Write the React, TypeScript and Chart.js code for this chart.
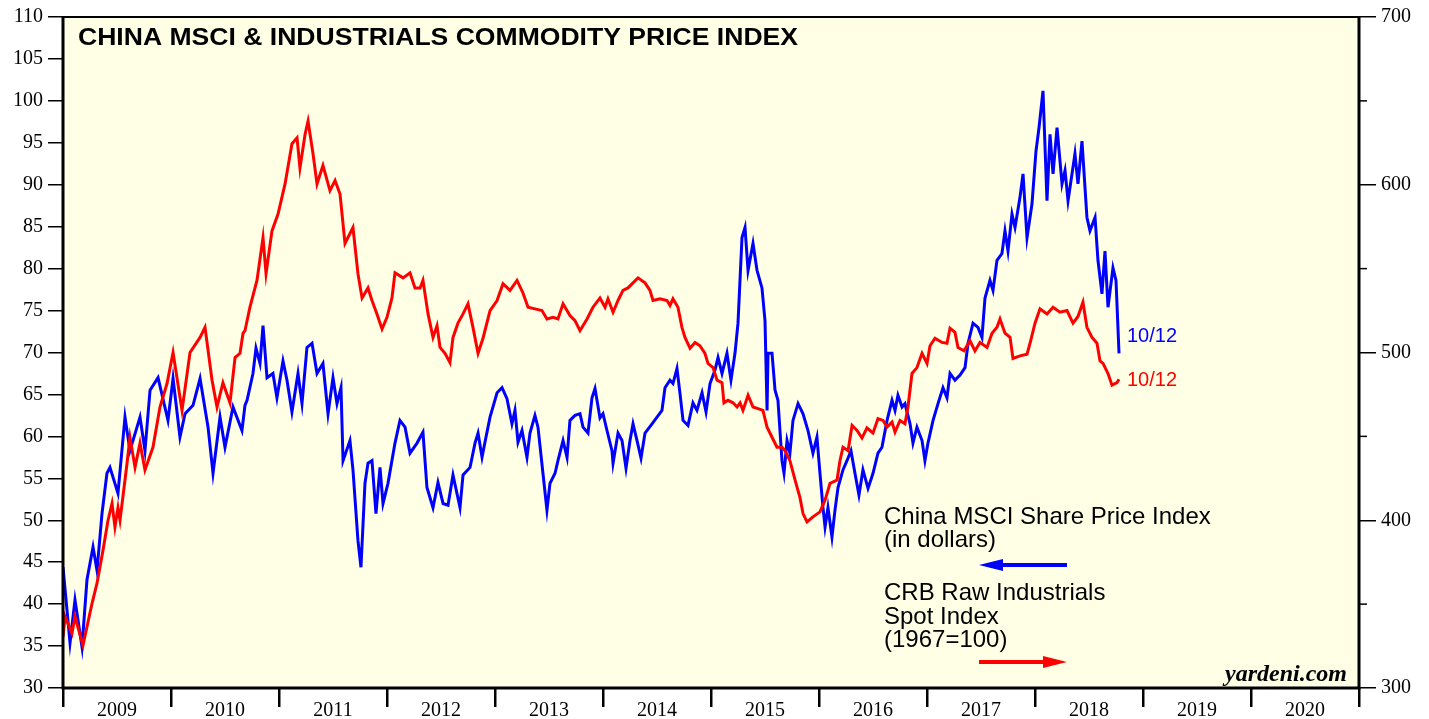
import React, { useEffect, useRef } from "react";
import { Chart, registerables } from "chart.js";

Chart.register(...registerables);

// China MSCI Share Price Index (in dollars) — left axis
const blueDates = [
  2009.000, 2009.065, 2009.111, 2009.176, 2009.222, 2009.278, 2009.315, 2009.361, 2009.407, 2009.435,
  2009.509, 2009.574, 2009.620, 2009.713, 2009.759, 2009.806, 2009.880, 2009.972, 2010.019, 2010.083,
  2010.130, 2010.204, 2010.269, 2010.343, 2010.389, 2010.454, 2010.500, 2010.574, 2010.657, 2010.685,
  2010.704, 2010.759, 2010.787, 2010.824, 2010.852, 2010.889, 2010.944, 2010.981, 2011.037, 2011.074,
  2011.120, 2011.176, 2011.213, 2011.259, 2011.306, 2011.352, 2011.407, 2011.454, 2011.500, 2011.537,
  2011.574, 2011.593, 2011.657, 2011.685, 2011.731, 2011.759, 2011.796, 2011.824, 2011.861, 2011.898,
  2011.935, 2011.963, 2012.009, 2012.074, 2012.120, 2012.167, 2012.213, 2012.278, 2012.333, 2012.370,
  2012.426, 2012.472, 2012.519, 2012.565, 2012.611, 2012.676, 2012.704, 2012.769, 2012.815, 2012.843,
  2012.880, 2012.907, 2012.954, 2013.019, 2013.065, 2013.111, 2013.157, 2013.185, 2013.213, 2013.250,
  2013.296, 2013.324, 2013.370, 2013.398, 2013.444, 2013.481, 2013.509, 2013.556, 2013.583, 2013.630,
  2013.667, 2013.694, 2013.741, 2013.787, 2013.815, 2013.861, 2013.898, 2013.926, 2013.972, 2014.000,
  2014.037, 2014.083, 2014.093, 2014.139, 2014.176, 2014.213, 2014.250, 2014.278, 2014.315, 2014.352,
  2014.389, 2014.454, 2014.500, 2014.546, 2014.574, 2014.620, 2014.648, 2014.685, 2014.713, 2014.741,
  2014.787, 2014.833, 2014.870, 2014.917, 2014.954, 2014.991, 2015.037, 2015.065, 2015.102, 2015.148,
  2015.185, 2015.222, 2015.250, 2015.287, 2015.315, 2015.343, 2015.389, 2015.426, 2015.472, 2015.500,
  2015.519, 2015.528, 2015.565, 2015.593, 2015.620, 2015.657, 2015.676, 2015.704, 2015.731, 2015.759,
  2015.806, 2015.852, 2015.898, 2015.944, 2015.981, 2016.009, 2016.037, 2016.056, 2016.083, 2016.120,
  2016.148, 2016.176, 2016.222, 2016.259, 2016.296, 2016.333, 2016.370, 2016.407, 2016.454, 2016.500,
  2016.546, 2016.583, 2016.630, 2016.676, 2016.704, 2016.731, 2016.769, 2016.796, 2016.843, 2016.870,
  2016.907, 2016.954, 2016.981, 2017.009, 2017.056, 2017.102, 2017.148, 2017.185, 2017.213, 2017.259,
  2017.306, 2017.352, 2017.380, 2017.426, 2017.472, 2017.509, 2017.537, 2017.583, 2017.611, 2017.648,
  2017.694, 2017.722, 2017.750, 2017.787, 2017.815, 2017.861, 2017.889, 2017.926, 2017.972, 2018.009,
  2018.037, 2018.074, 2018.111, 2018.139, 2018.167, 2018.204, 2018.250, 2018.278, 2018.306, 2018.370,
  2018.398, 2018.435, 2018.481, 2018.509, 2018.556, 2018.583, 2018.620, 2018.648, 2018.676, 2018.722,
  2018.750, 2018.778,
];
const blueValues = [
  44.4, 35.4, 40.5, 34.9, 42.9, 46.8, 44.0, 50.8, 55.6, 56.3,
  53.2, 62.3, 58.3, 62.3, 58.3, 65.5, 67.0, 61.9, 66.9, 59.9,
  62.7, 63.7, 66.9, 61.1, 55.6, 62.3, 58.7, 63.5, 60.7, 63.7,
  64.3, 67.5, 70.5, 68.7, 73.2, 67.0, 67.5, 64.6, 69.0, 66.7,
  62.9, 67.5, 63.9, 70.6, 71.1, 67.5, 68.7, 62.7, 67.0, 63.9,
  65.8, 57.1, 59.5, 56.0, 47.6, 44.4, 54.4, 56.8, 57.1, 50.8,
  56.3, 52.0, 54.4, 59.2, 61.9, 61.1, 58.0, 59.2, 60.5, 53.9,
  51.5, 54.5, 52.0, 51.8, 55.4, 51.5, 55.4, 56.3, 59.2, 60.4,
  57.5, 59.3, 62.3, 65.2, 65.8, 64.5, 61.5, 63.1, 59.3, 60.7,
  57.5, 60.4, 62.5, 61.1, 55.6, 51.2, 54.4, 55.6, 57.1, 59.5,
  57.5, 61.9, 62.5, 62.7, 61.1, 60.4, 64.6, 65.7, 62.2, 62.7,
  60.7, 58.3, 56.8, 60.4, 59.5, 56.2, 59.5, 61.5, 59.5, 57.4,
  60.4, 61.5, 62.3, 63.1, 65.8, 66.7, 66.3, 68.1, 65.1, 61.9,
  61.3, 64.0, 63.1, 65.2, 62.9, 66.3, 67.9, 69.4, 67.5, 69.9,
  66.7, 69.9, 73.5, 83.7, 84.9, 79.8, 83.0, 79.8, 77.7, 73.8,
  63.1, 69.9, 69.9, 65.5, 64.3, 57.1, 55.6, 59.5, 58.0, 61.9,
  63.9, 62.7, 60.7, 58.0, 59.9, 55.6, 51.5, 49.2, 51.5, 48.0,
  51.2, 53.9, 56.0, 57.1, 58.3, 55.6, 53.0, 56.0, 53.8, 55.6,
  58.0, 58.7, 61.9, 64.3, 63.1, 64.9, 63.5, 63.9, 61.5, 59.2,
  61.1, 59.5, 57.1, 59.2, 61.9, 63.9, 65.8, 64.6, 67.5, 66.7,
  67.3, 68.2, 71.1, 73.5, 73.0, 71.8, 76.5, 78.6, 77.4, 81.0,
  81.8, 84.5, 82.1, 86.5, 84.9, 88.5, 91.3, 83.7, 87.7, 94.0,
  96.8, 101.2, 88.1, 96.0, 91.3, 96.8, 90.1, 91.7, 88.1, 93.7,
  90.1, 95.2, 86.1, 84.5, 86.1, 81.0, 77.0, 82.1, 75.4, 80.1,
  78.6, 69.9,
];

// CRB Raw Industrials Spot Index (1967=100) — right axis
const redDates = [
  2009.000, 2009.019, 2009.083, 2009.111, 2009.185, 2009.269, 2009.315, 2009.370, 2009.417, 2009.454,
  2009.481, 2009.509, 2009.528, 2009.593, 2009.620, 2009.667, 2009.713, 2009.759, 2009.833, 2009.898,
  2009.963, 2010.019, 2010.102, 2010.176, 2010.269, 2010.315, 2010.380, 2010.426, 2010.481, 2010.546,
  2010.593, 2010.639, 2010.667, 2010.685, 2010.731, 2010.796, 2010.852, 2010.880, 2010.935, 2010.991,
  2011.056, 2011.120, 2011.167, 2011.194, 2011.241, 2011.269, 2011.315, 2011.352, 2011.407, 2011.472,
  2011.519, 2011.565, 2011.611, 2011.685, 2011.731, 2011.769, 2011.824, 2011.861, 2011.907, 2011.954,
  2012.000, 2012.046, 2012.074, 2012.148, 2012.213, 2012.259, 2012.306, 2012.333, 2012.380, 2012.426,
  2012.463, 2012.491, 2012.537, 2012.583, 2012.611, 2012.657, 2012.704, 2012.750, 2012.796, 2012.843,
  2012.889, 2012.954, 2013.019, 2013.074, 2013.139, 2013.204, 2013.259, 2013.306, 2013.370, 2013.435,
  2013.481, 2013.537, 2013.583, 2013.630, 2013.694, 2013.741, 2013.787, 2013.852, 2013.907, 2013.972,
  2014.019, 2014.046, 2014.093, 2014.139, 2014.185, 2014.231, 2014.278, 2014.324, 2014.389, 2014.435,
  2014.463, 2014.528, 2014.593, 2014.620, 2014.648, 2014.694, 2014.731, 2014.759, 2014.806, 2014.852,
  2014.898, 2014.944, 2014.972, 2015.019, 2015.056, 2015.102, 2015.120, 2015.157, 2015.204, 2015.241,
  2015.269, 2015.296, 2015.343, 2015.389, 2015.435, 2015.481, 2015.519, 2015.565, 2015.611, 2015.657,
  2015.685, 2015.731, 2015.778, 2015.824, 2015.852, 2015.889, 2015.944, 2016.009, 2016.056, 2016.102,
  2016.167, 2016.194, 2016.222, 2016.269, 2016.306, 2016.352, 2016.398, 2016.444, 2016.500, 2016.546,
  2016.593, 2016.630, 2016.676, 2016.704, 2016.750, 2016.796, 2016.824, 2016.861, 2016.907, 2016.954,
  2017.000, 2017.028, 2017.074, 2017.139, 2017.185, 2017.213, 2017.259, 2017.287, 2017.343, 2017.398,
  2017.444, 2017.491, 2017.556, 2017.602, 2017.648, 2017.676, 2017.722, 2017.769, 2017.796, 2017.861,
  2017.926, 2017.954, 2018.000, 2018.046, 2018.111, 2018.167, 2018.231, 2018.296, 2018.352, 2018.398,
  2018.444, 2018.481, 2018.528, 2018.574, 2018.602, 2018.630, 2018.676, 2018.713, 2018.759, 2018.778,
];
const redValues = [
  330.5, 342.5, 332.5, 342.5, 325.5, 350.5, 362.5, 382.0, 400.0, 410.0,
  396.0, 407.5, 400.0, 434.0, 449.5, 431.5, 446.0, 430.0, 443.5, 467.5,
  481.5, 500.0, 465.5, 500.0, 509.0, 515.0, 483.5, 467.5, 482.0, 470.0,
  497.0, 499.5, 511.5, 513.0, 527.0, 543.0, 568.5, 547.0, 572.5, 582.5,
  600.5, 624.5, 628.0, 610.0, 630.0, 638.0, 618.5, 600.5, 611.5, 596.5,
  602.5, 594.5, 565.0, 574.5, 547.0, 532.5, 538.5, 531.0, 523.0, 514.0,
  521.0, 532.5, 547.5, 544.5, 547.5, 538.5, 538.5, 543.0, 523.0, 509.0,
  516.0, 503.0, 499.5, 494.0, 509.0, 517.5, 523.0, 529.0, 515.0, 499.5,
  508.5, 525.0, 531.0, 541.0, 537.0, 543.0, 535.5, 527.0, 526.0, 525.0,
  520.0, 521.0, 520.0, 529.0, 522.0, 519.0, 513.0, 520.0, 527.0, 532.5,
  527.0, 532.0, 524.0, 531.0, 537.0, 538.5, 541.5, 544.5, 541.5, 537.0,
  531.0, 532.0, 531.0, 528.0, 532.0, 527.0, 515.0, 509.0, 502.5, 506.0,
  504.0, 499.5, 493.5, 491.0, 483.5, 482.0, 470.0, 471.5, 470.0, 467.5,
  470.0, 465.5, 474.5, 467.5, 466.5, 465.5, 455.5, 449.5, 443.5, 443.5,
  441.5, 435.5, 424.0, 413.5, 404.0, 399.0, 402.0, 405.0, 412.0, 422.0,
  424.0, 435.5, 443.5, 441.5, 456.5, 453.5, 449.0, 455.0, 452.0, 460.5,
  459.5, 455.5, 458.5, 452.5, 459.5, 457.5, 467.5, 487.5, 491.0, 499.5,
  493.5, 504.0, 508.5, 506.0, 505.5, 514.5, 512.0, 503.0, 501.0, 507.0,
  501.0, 506.0, 503.0, 511.5, 515.0, 520.0, 511.5, 509.0, 496.5, 498.0,
  499.0, 505.5, 517.5, 526.0, 523.0, 527.0, 524.0, 525.0, 517.5, 521.5,
  530.0, 515.0, 509.0, 505.5, 495.0, 493.5, 487.5, 480.5, 482.0, 484.0,
];

const leftTicks = [30, 35, 40, 45, 50, 55, 60, 65, 70, 75, 80, 85, 90, 95, 100, 105, 110];
const rightTicks = [300, 400, 500, 600, 700];
const rightMinorTicks = [350, 450, 550, 650];
const yearTicks = [2009, 2010, 2011, 2012, 2013, 2014, 2015, 2016, 2017, 2018, 2019, 2020, 2021];
const yearLabels = ["2009", "2010", "2011", "2012", "2013", "2014", "2015", "2016", "2017", "2018", "2019", "2020"];

const titleText = "CHINA MSCI & INDUSTRIALS COMMODITY PRICE INDEX";
const blueLegend = ["China MSCI Share Price Index", "(in dollars)"];
const redLegend = ["CRB Raw Industrials", "Spot Index", "(1967=100)"];
const lastDateLabel = "10/12";
const sourceText = "yardeni.com";

const BLUE = "#0000ff";
const RED = "#ff0000";
const SANS = '"Liberation Sans", Arial, Helvetica, sans-serif';
const SERIF = '"Liberation Serif", "Times New Roman", serif';

function drawArrow(ctx: CanvasRenderingContext2D, x1: number, x2: number, y: number, color: string) {
  const dir = x2 > x1 ? 1 : -1;
  const headLen = 24;
  const headHalf = 6;
  ctx.save();
  ctx.strokeStyle = color;
  ctx.fillStyle = color;
  ctx.lineWidth = 4;
  ctx.beginPath();
  ctx.moveTo(x1, y);
  ctx.lineTo(x2 - dir * headLen, y);
  ctx.stroke();
  ctx.beginPath();
  ctx.moveTo(x2, y);
  ctx.lineTo(x2 - dir * headLen, y - headHalf);
  ctx.lineTo(x2 - dir * headLen, y + headHalf);
  ctx.closePath();
  ctx.fill();
  ctx.restore();
}

const backgroundPlugin = {
  id: "plotBackground",
  beforeDatasetsDraw(chart: any) {
    const { ctx, chartArea } = chart;
    ctx.save();
    ctx.fillStyle = "#ffffe6";
    ctx.fillRect(chartArea.left, chartArea.top, chartArea.right - chartArea.left, chartArea.bottom - chartArea.top);
    ctx.restore();
  },
};

const overlayPlugin = {
  id: "overlay",
  afterDraw(chart: any) {
    const { ctx, chartArea, scales } = chart;
    const { left, right, top, bottom } = chartArea;
    ctx.save();

    // frame
    ctx.strokeStyle = "#000";
    ctx.lineWidth = 2;
    ctx.beginPath();
    ctx.moveTo(left, top);
    ctx.lineTo(right, top);
    ctx.stroke();
    ctx.lineWidth = 3;
    ctx.beginPath();
    ctx.moveTo(left, top - 1);
    ctx.lineTo(left, bottom);
    ctx.lineTo(right, bottom);
    ctx.lineTo(right, top - 1);
    ctx.stroke();

    // right minor ticks
    ctx.lineWidth = 1.5;
    const yR = scales.yRight;
    rightMinorTicks.forEach((v) => {
      const py = yR.getPixelForValue(v);
      ctx.beginPath();
      ctx.moveTo(right, py);
      ctx.lineTo(right + 8, py);
      ctx.stroke();
    });

    // year labels centred between year ticks
    const xs = scales.x;
    ctx.fillStyle = "#000";
    ctx.font = `20px ${SERIF}`;
    ctx.textAlign = "center";
    ctx.textBaseline = "alphabetic";
    yearLabels.forEach((lab, i) => {
      const px = (xs.getPixelForValue(yearTicks[i]) + xs.getPixelForValue(yearTicks[i + 1])) / 2;
      ctx.fillText(lab, px, bottom + 28);
    });

    // title (stretched to the reference width)
    ctx.textAlign = "left";
    ctx.font = `bold 24px ${SANS}`;
    const tw = ctx.measureText(titleText).width;
    const targetW = 720;
    ctx.save();
    ctx.translate(left + 15, top + 28);
    ctx.scale(targetW / tw, 1);
    ctx.fillText(titleText, 0, 0);
    ctx.restore();

    // legend texts
    ctx.font = `24px ${SANS}`;
    const lx = left + 821;
    blueLegend.forEach((t, i) => ctx.fillText(t, lx, 524 + i * 23));
    drawArrow(ctx, lx + 183, lx + 95, 565, BLUE);
    ctx.fillStyle = "#000";
    ctx.font = `24px ${SANS}`;
    redLegend.forEach((t, i) => ctx.fillText(t, lx, 600 + i * 23.5));
    drawArrow(ctx, lx + 95, lx + 183, 662, RED);

    // end labels
    ctx.font = `20px ${SANS}`;
    ctx.textBaseline = "middle";
    ctx.fillStyle = BLUE;
    ctx.fillText(lastDateLabel, 1127, 336);
    ctx.fillStyle = RED;
    ctx.fillText(lastDateLabel, 1127, 380);

    // source
    ctx.fillStyle = "#000";
    ctx.textBaseline = "alphabetic";
    ctx.textAlign = "right";
    ctx.font = `italic bold 24px ${SERIF}`;
    ctx.fillText(sourceText, right - 12, bottom - 7);

    ctx.restore();
  },
};

export default function App() {
  const canvasRef = useRef<HTMLCanvasElement | null>(null);

  useEffect(() => {
    const canvas = canvasRef.current;
    if (!canvas) return;
    const chart = new Chart(canvas, {
      type: "line",
      data: {
        datasets: [
          {
            label: "CRB Raw Industrials Spot Index (1967=100)",
            data: redDates.map((d, i) => ({ x: d, y: redValues[i] })),
            yAxisID: "yRight",
            borderColor: RED,
            borderWidth: 3,
            pointRadius: 0,
            tension: 0,
            fill: false,
          },
          {
            label: "China MSCI Share Price Index (in dollars)",
            data: blueDates.map((d, i) => ({ x: d, y: blueValues[i] })),
            yAxisID: "y",
            borderColor: BLUE,
            borderWidth: 3,
            pointRadius: 0,
            tension: 0,
            fill: false,
          },
        ],
      },
      options: {
        responsive: false,
        animation: false,
        layout: { padding: { top: 16, left: 0, right: 0, bottom: 0 } },
        plugins: {
          legend: { display: false },
          title: { display: false },
          tooltip: { enabled: false },
        },
        scales: {
          x: {
            type: "linear",
            min: 2009,
            max: 2021,
            afterBuildTicks: (scale: any) => {
              scale.ticks = yearTicks.map((v) => ({ value: v }));
            },
            afterFit: (scale: any) => {
              scale.height = 31;
            },
            border: { display: false },
            grid: {
              drawOnChartArea: false,
              drawTicks: true,
              tickLength: 19,
              color: "#000",
              lineWidth: 2.5,
            },
            ticks: { display: false, autoSkip: false, maxRotation: 0 },
          },
          y: {
            type: "linear",
            position: "left",
            min: 30,
            max: 110,
            afterBuildTicks: (scale: any) => {
              scale.ticks = leftTicks.map((v) => ({ value: v }));
            },
            afterFit: (scale: any) => {
              scale.width = 63;
            },
            border: { display: false },
            grid: { drawOnChartArea: false, tickLength: 15, color: "#000", lineWidth: 1.5 },
            ticks: {
              color: "#000",
              padding: 5,
              font: { family: SERIF, size: 20 },
            },
          },
          yRight: {
            type: "linear",
            position: "right",
            min: 300,
            max: 700,
            afterBuildTicks: (scale: any) => {
              scale.ticks = rightTicks.map((v) => ({ value: v }));
            },
            afterFit: (scale: any) => {
              scale.width = 70;
            },
            border: { display: false },
            grid: { drawOnChartArea: false, tickLength: 17, color: "#000", lineWidth: 1.5 },
            ticks: {
              color: "#000",
              padding: 5,
              font: { family: SERIF, size: 20 },
            },
          },
        },
      },
      plugins: [backgroundPlugin, overlayPlugin],
    });
    return () => chart.destroy();
  }, []);

  return (
    <div style={{ position: "absolute", left: 0, top: 0, width: 1429, height: 719, background: "#fff" }}>
      <canvas ref={canvasRef} width={1429} height={719} style={{ display: "block" }} />
    </div>
  );
}
